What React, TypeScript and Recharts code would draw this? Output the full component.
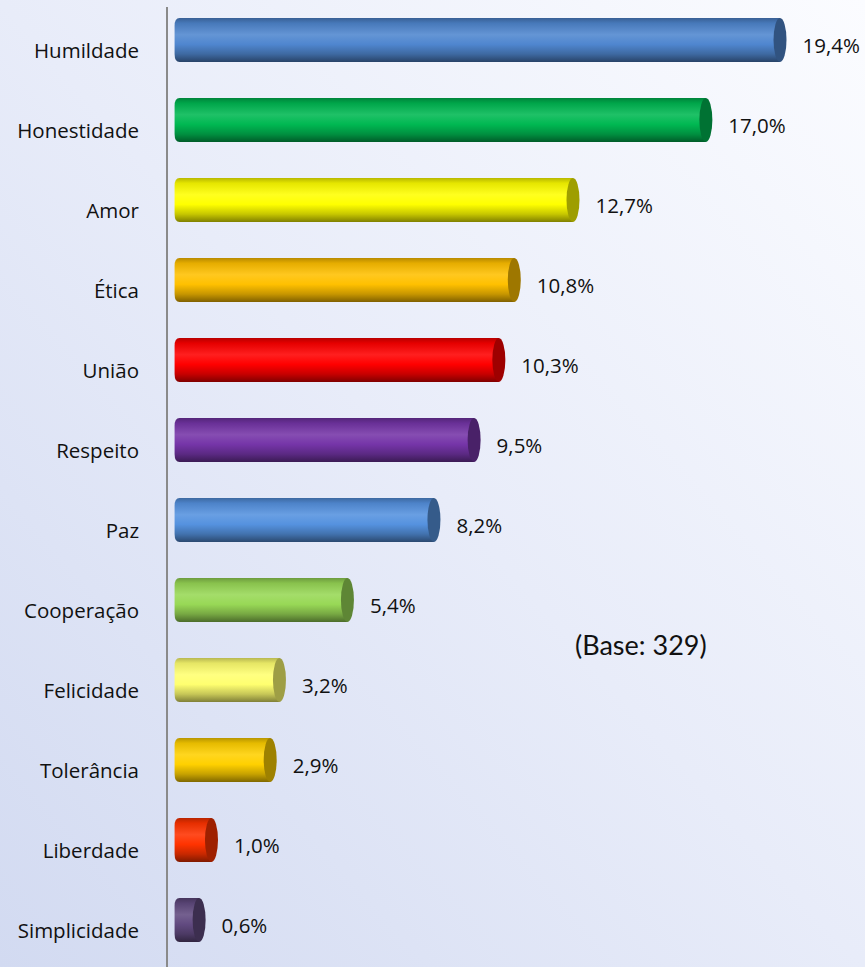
import React from "react";
import { BarChart, Bar, XAxis, YAxis, Cell, LabelList } from "recharts";

const categories = [
  "Humildade",
  "Honestidade",
  "Amor",
  "Ética",
  "União",
  "Respeito",
  "Paz",
  "Cooperação",
  "Felicidade",
  "Tolerância",
  "Liberdade",
  "Simplicidade",
];
const values = [19.4, 17.0, 12.7, 10.8, 10.3, 9.5, 8.2, 5.4, 3.2, 2.9, 1.0, 0.6];
const barColors = [
  "#4f86cf",
  "#00b852",
  "#ffff00",
  "#ffc000",
  "#ff0000",
  "#7535a8",
  "#5592df",
  "#98d856",
  "#ffff70",
  "#ffd000",
  "#ff3300",
  "#614a80",
];
const baseNote = "(Base: 329)";

const data = categories.map((name, i) => ({ name, value: values[i] }));

const FONT = "'Open Sans', 'DejaVu Sans', sans-serif";

function shade(hex: string, amt: number): string {
  const h = hex.replace("#", "");
  const r = parseInt(h.slice(0, 2), 16);
  const g = parseInt(h.slice(2, 4), 16);
  const b = parseInt(h.slice(4, 6), 16);
  const f = (c: number) => {
    const v = amt < 0 ? c * (1 + amt) : c + (255 - c) * amt;
    return Math.max(0, Math.min(255, Math.round(v)));
  };
  return `rgb(${f(r)},${f(g)},${f(b)})`;
}

const CylinderBar = (props: any) => {
  const { x, y, width, height, index } = props;
  const base = barColors[index];
  const id = `cyl-grad-${index}`;
  const rx = 6.5;
  const left = x - 12.5;
  const right = x + width;
  const bodyRight = right - rx;
  const r = 5;
  const d = `M${left + r},${y} H${bodyRight} V${y + height} H${left + r} Q${left},${y + height} ${left},${y + height - r * 1.6} V${y + r * 1.6} Q${left},${y} ${left + r},${y} Z`;
  return (
    <g>
      <defs>
        <linearGradient id={id} x1="0" y1="0" x2="0" y2="1">
          <stop offset="0%" stopColor={shade(base, -0.28)} />
          <stop offset="12%" stopColor={shade(base, -0.1)} />
          <stop offset="38%" stopColor={shade(base, 0.12)} />
          <stop offset="60%" stopColor={base} />
          <stop offset="82%" stopColor={shade(base, -0.22)} />
          <stop offset="100%" stopColor={shade(base, -0.5)} />
        </linearGradient>
      </defs>
      <path d={d} fill={`url(#${id})`} />
      <ellipse
        cx={bodyRight}
        cy={y + height / 2}
        rx={rx}
        ry={height / 2}
        fill={shade(base, -0.38)}
      />
    </g>
  );
};

const ValueLabel = (props: any) => {
  const { x, y, width, height, value } = props;
  return (
    <text
      x={x + width + 16}
      y={y + height / 2 + 13}
      fill="#111"
      fontSize={20.5}
      fontFamily={FONT}
      textAnchor="start"
    >
      {Number(value).toFixed(1).replace(".", ",") + "%"}
    </text>
  );
};

const CategoryTick = (props: any) => {
  const { x, y, payload } = props;
  return (
    <text
      x={x}
      y={y + 18}
      fill="#111"
      fontSize={20.5}
      fontFamily={FONT}
      textAnchor="end"
    >
      {payload.value}
    </text>
  );
};

export default function App() {
  return (
    <div
      style={{
        position: "relative",
        width: 865,
        height: 967,
        background: "linear-gradient(to bottom left, #fbfcff 0%, #e8ecf9 50%, #d2daf1 100%)",
        overflow: "hidden",
      }}
    >
      <style>{"body{margin:0}"}</style>
      <BarChart
        width={865}
        height={967}
        data={data}
        layout="vertical"
        margin={{ top: 7, right: 0, bottom: 0, left: 0 }}
        barSize={44}
      >
        <XAxis type="number" domain={[-0.65, 21.94]} hide allowDataOverflow />
        <YAxis
          type="category"
          dataKey="name"
          width={167}
          padding={{ top: -7, bottom: 7 }}
          tickSize={0}
          tickMargin={28}
          tickLine={false}
          axisLine={{ stroke: "#8a8a8a", strokeWidth: 2 }}
          tick={<CategoryTick />}
          interval={0}
        />
        <Bar dataKey="value" isAnimationActive={false} shape={<CylinderBar />}>
          {data.map((d, i) => (
            <Cell key={d.name} fill={barColors[i]} />
          ))}
          <LabelList dataKey="value" content={<ValueLabel />} />
        </Bar>
      </BarChart>
      <div
        style={{
          position: "absolute",
          left: 575,
          top: 627,
          fontFamily: "Lato, 'Open Sans', sans-serif",
          fontSize: 27,
          color: "#111",
          whiteSpace: "nowrap",
          lineHeight: "36px",
        }}
      >
        {baseNote}
      </div>
    </div>
  );
}
